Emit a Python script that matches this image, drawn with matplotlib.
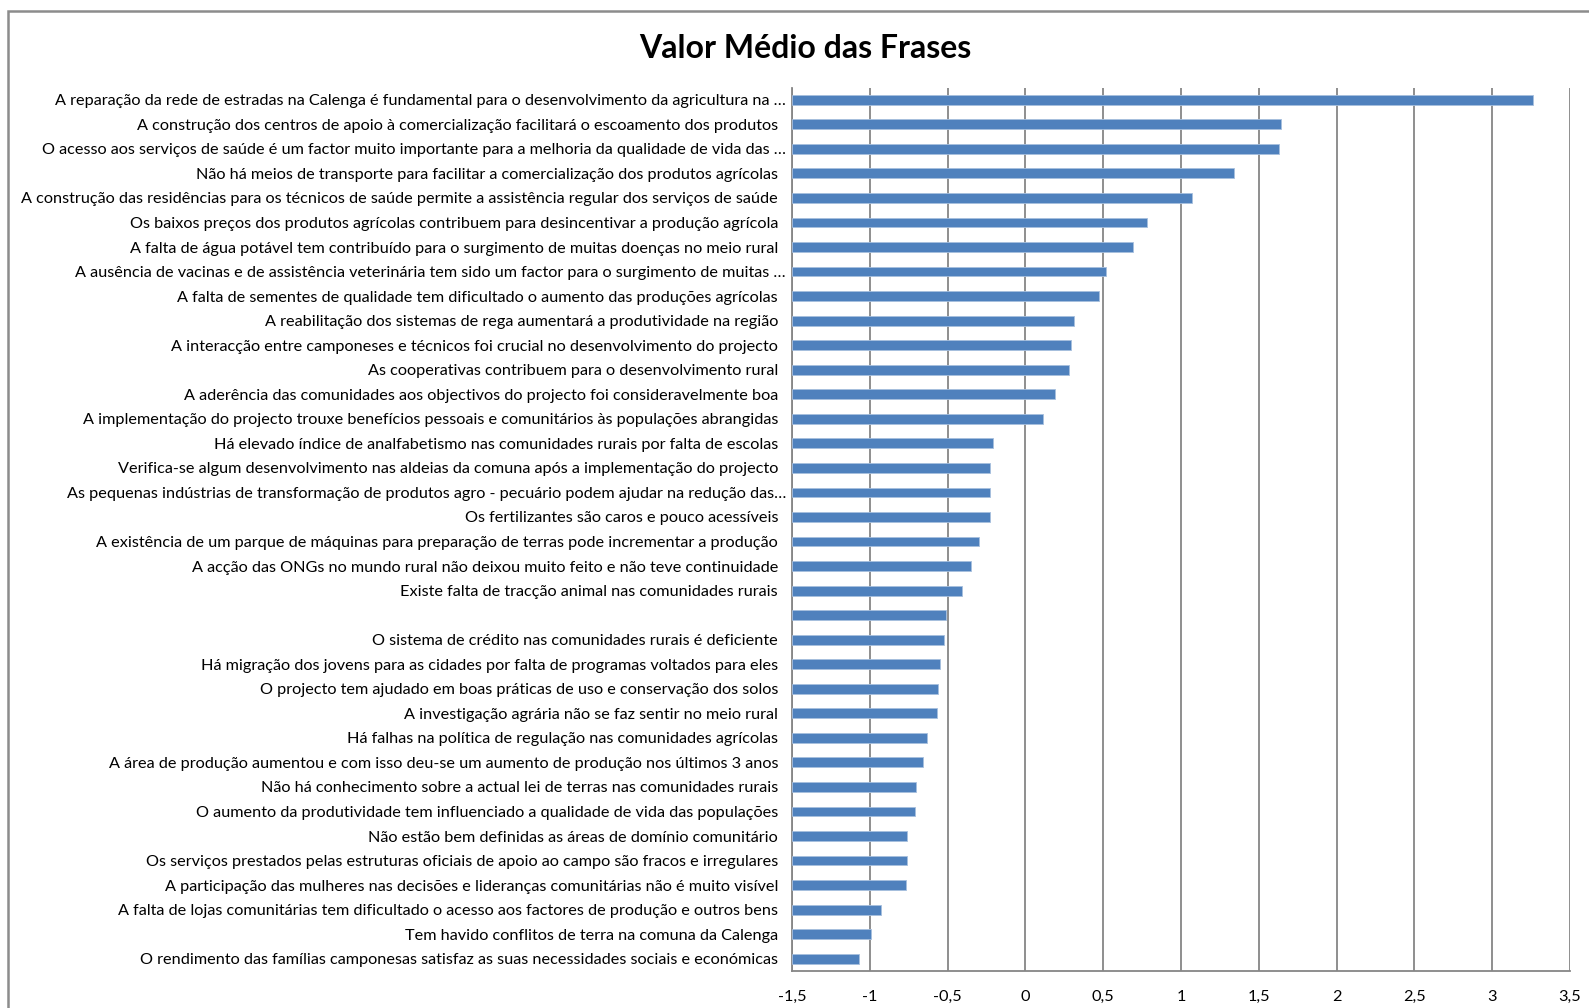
import numpy as np
import matplotlib
matplotlib.use("Agg")
import matplotlib.pyplot as plt
import matplotlib.transforms as mtransforms
from matplotlib.patches import Rectangle

# categories, top to bottom as in the chart
frases = [
    "A reparação da rede de estradas na Calenga é fundamental para o desenvolvimento da agricultura na …",
    "A construção dos centros de apoio à comercialização facilitará o escoamento dos produtos",
    "O acesso aos serviços de saúde é um factor muito importante para a melhoria da qualidade de vida das …",
    "Não há meios de transporte para facilitar a comercialização dos produtos agrícolas",
    "A construção das residências para os técnicos de saúde permite a assistência regular dos serviços de saúde",
    "Os baixos preços dos produtos agrícolas contribuem para desincentivar a produção agrícola",
    "A falta de água potável tem contribuído para o surgimento de muitas doenças no meio rural",
    "A ausência de vacinas e de assistência veterinária tem sido um factor para o surgimento de muitas …",
    "A falta de sementes de qualidade tem dificultado o aumento das produções agrícolas",
    "A reabilitação dos sistemas de rega aumentará a produtividade na região",
    "A interacção entre camponeses e técnicos foi crucial no desenvolvimento do projecto",
    "As cooperativas contribuem para o desenvolvimento rural",
    "A aderência das comunidades aos objectivos do projecto foi consideravelmente boa",
    "A implementação do projecto trouxe benefícios pessoais e comunitários às populações abrangidas",
    "Há elevado índice de analfabetismo nas comunidades rurais por falta de escolas",
    "Verifica-se algum desenvolvimento nas aldeias da comuna após a implementação do projecto",
    "As pequenas indústrias de transformação de produtos agro - pecuário podem ajudar na redução das…",
    "Os fertilizantes são caros e pouco acessíveis",
    "A existência de um parque de máquinas para preparação de terras pode incrementar a produção",
    "A acção das ONGs no mundo rural não deixou muito feito e não teve continuidade",
    "Existe falta de tracção animal nas comunidades rurais",
    "",
    "O sistema de crédito nas comunidades rurais é deficiente",
    "Há migração dos jovens para as cidades por falta de programas voltados para eles",
    "O projecto tem ajudado em boas práticas de uso e conservação dos solos",
    "A investigação agrária não se faz sentir no meio rural",
    "Há falhas na política de regulação nas comunidades agrícolas",
    "A área de produção aumentou e com isso deu-se um aumento de produção nos últimos 3 anos",
    "Não há conhecimento sobre a actual lei de terras nas comunidades rurais",
    "O aumento da produtividade tem influenciado a qualidade de vida das populações",
    "Não estão bem definidas as áreas de domínio comunitário",
    "Os serviços prestados pelas estruturas oficiais de apoio ao campo são fracos e irregulares",
    "A participação das mulheres nas decisões e lideranças comunitárias não é muito visível",
    "A falta de lojas comunitárias tem dificultado o acesso aos factores de produção e outros bens",
    "Tem havido conflitos de terra na comuna da Calenga",
    "O rendimento das famílias camponesas satisfaz as suas necessidades sociais e económicas",
]

valor_medio = [3.26, 1.64, 1.63, 1.34, 1.07, 0.78, 0.69, 0.52, 0.47, 0.31,
               0.29, 0.28, 0.19, 0.11, -0.21, -0.23, -0.23, -0.23, -0.30, -0.35,
               -0.41, -0.51, -0.52, -0.55, -0.56, -0.57, -0.63, -0.66, -0.70, -0.71,
               -0.76, -0.76, -0.77, -0.93, -0.99, -1.07]

xticks = [-1.5, -1, -0.5, 0, 0.5, 1, 1.5, 2, 2.5, 3, 3.5]
xlabels = ["-1,5", "-1", "-0,5", "0", "0,5", "1", "1,5", "2", "2,5", "3", "3,5"]
base = -1.5  # the category axis crosses at -1.5

plt.rcParams['font.family'] = ['Lato', 'DejaVu Sans']

W, H = 1589, 1008
fig = plt.figure(figsize=(W / 100, H / 100), dpi=100)

# chart area border (runs off the right and bottom edge)
fig.patches.append(Rectangle((7.5 / W, -0.1), 1.2, 1.1 - 11 / H, transform=fig.transFigure,
                             fill=False, edgecolor='#8c8c8c', linewidth=1.8))

ax = fig.add_axes([792 / W, 1 - 971 / H, (1570 - 792) / W, (971 - 87.5) / H])

y = np.arange(len(frases))
vals = np.array(valor_medio)
ax.barh(y, vals - base, left=base, height=0.4, color='#4F81BD',
        edgecolor='#A7BFDE', linewidth=0.6, zorder=3)

ax.set_xlim(-1.5, 3.5)
ax.set_ylim(len(frases) - 0.5, -0.5)
ax.set_xticks(xticks)
ax.set_xticklabels(xlabels)
ax.set_yticks(y)
ax.set_yticklabels(frases)
ax.tick_params(axis='both', length=0, labelsize=11.7, colors='black')
ax.tick_params(axis='y', pad=10)
ax.tick_params(axis='x', pad=13.5)

# truncated labels sit a bit closer to the axis
shift = mtransforms.ScaledTranslation(8 / 100, 0, fig.dpi_scale_trans)
for lab in ax.get_yticklabels():
    if lab.get_text().endswith("…"):
        lab.set_transform(lab.get_transform() + shift)

ax.grid(axis='x', color='#868686', linewidth=1.3, zorder=0)
ax.set_axisbelow(True)
for s in ['top', 'right']:
    ax.spines[s].set_visible(False)
for s in ['left', 'bottom']:
    ax.spines[s].set_color('#868686')
    ax.spines[s].set_linewidth(1.3)

fig.text(805 / W, 1 - 49 / H, "Valor Médio das Frases", ha='center', va='center',
         fontsize=23, fontweight='bold')

fig.savefig('out.png', dpi=100)
